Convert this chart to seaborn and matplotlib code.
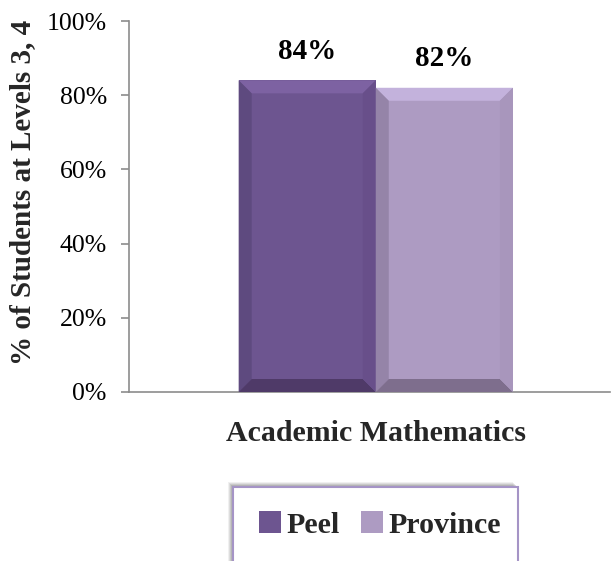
import matplotlib
matplotlib.use("Agg")
import matplotlib.pyplot as plt
import seaborn as sns
import pandas as pd
from matplotlib.patches import Polygon, Rectangle

categories = ["Academic Mathematics"]
series = ["Peel", "Province"]
values = [84, 82]
labels = ["84%", "82%"]
yticks = [0, 20, 40, 60, 80, 100]
ytick_labels = ["0%", "20%", "40%", "60%", "80%", "100%"]

main_colors = ["#6D5590", "#AD9BC2"]
top_colors = ["#7D62A2", "#C3B2DC"]
left_colors = ["#5E4A7F", "#9584A8"]
bottom_colors = ["#4F3A68", "#7E6E8D"]
right_colors = ["#684F8A", "#A896BC"]

sns.set_theme(style="white")
plt.rcParams["font.family"] = ["Liberation Serif", "DejaVu Serif"]

df = pd.DataFrame({"cat": categories * len(series), "series": series, "value": values})

fig = plt.figure(figsize=(6.11, 5.61), dpi=100)
ax = fig.add_axes([129 / 611, 1 - 392 / 561, 481 / 611, 371 / 561])
sns.barplot(data=df, x="cat", y="value", hue="series", palette=main_colors,
            width=0.57, ax=ax, legend=False, saturation=1, linewidth=0)

ax.set_ylim(0, 100)
ax.set_xlim(-0.513, 0.487)
ax.set_yticks(yticks)
ax.set_yticklabels(ytick_labels, fontsize=18.5, color="#000000")
ax.set_xticks([0])
ax.set_xticklabels(categories, fontsize=21.5, fontweight="bold")
ax.set_xlabel("")
ax.set_ylabel("% of Students at Levels 3, 4", fontsize=21, fontweight="bold", va="center")
ax.yaxis.set_label_coords(-0.222, 0.539)
ax.tick_params(axis="y", left=True, length=6, width=1.2, color="#8c8c8c", pad=10)
ax.tick_params(axis="x", bottom=False, pad=14)
for s in ["top", "right"]:
    ax.spines[s].set_visible(False)
for s in ["left", "bottom"]:
    ax.spines[s].set_color("#8c8c8c")
    ax.spines[s].set_linewidth(1.2)

# bevel effect
bx = 13 / 481
by = 13 / 371 * 100
bars = sorted(ax.patches, key=lambda p: p.get_x())
for i, p in enumerate(bars):
    x0, y0, w, h = p.get_x(), p.get_y(), p.get_width(), p.get_height()
    x1, y1 = x0 + w, y0 + h
    polys = [
        ([(x0, y1), (x1, y1), (x1 - bx, y1 - by), (x0 + bx, y1 - by)], top_colors[i]),
        ([(x0, y0), (x0, y1), (x0 + bx, y1 - by), (x0 + bx, y0 + by)], left_colors[i]),
        ([(x0, y0), (x1, y0), (x1 - bx, y0 + by), (x0 + bx, y0 + by)], bottom_colors[i]),
        ([(x1, y0), (x1, y1), (x1 - bx, y1 - by), (x1 - bx, y0 + by)], right_colors[i]),
    ]
    for pts, c in polys:
        ax.add_patch(Polygon(pts, closed=True, facecolor=c, edgecolor="none", zorder=3))
    ax.text(x0 + w / 2, y1 + 7.8, labels[i], ha="center", va="center",
            fontsize=21, fontweight="bold", color="#000000", clip_on=False)

# legend box (extends past bottom edge), with soft shadow
for k, a in enumerate([0.10, 0.14, 0.18, 0.22]):
    off = 5 - k
    sh = Rectangle(((233 - off) / 611, 1 - 580 / 561), 285 / 611, (93 + off) / 561,
                   transform=fig.transFigure, facecolor="#707070", edgecolor="none",
                   alpha=a, zorder=0)
    fig.patches.append(sh)
box = Rectangle((233 / 611, 1 - 580 / 561), 285 / 611, 93 / 561, transform=fig.transFigure,
                facecolor="white", edgecolor="#A594C6", linewidth=1.5, zorder=1)
fig.patches.append(box)
handles = [Rectangle((0, 0), 1, 1, facecolor=main_colors[i], edgecolor="none") for i in range(2)]
leg = fig.legend(handles, series, loc="center", bbox_to_anchor=(380 / 611, 1 - 525 / 561),
                 ncol=2, frameon=False, prop={"size": 21.5, "weight": "bold"},
                 handlelength=0.73, handleheight=0.73, handletextpad=0.2, columnspacing=0.7,
                 borderpad=0, borderaxespad=0)

fig.savefig("out.png", dpi=100)
